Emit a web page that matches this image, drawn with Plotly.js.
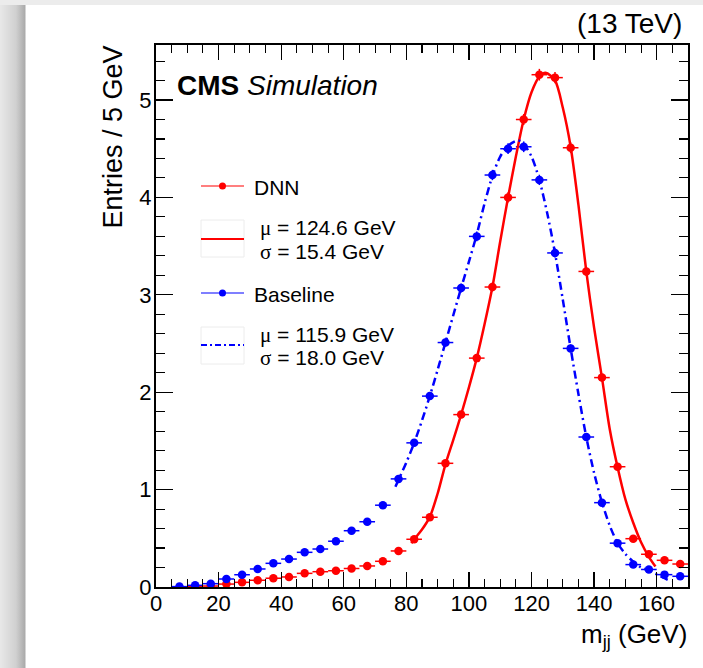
<!DOCTYPE html>
<html>
<head>
<meta charset="utf-8">
<script src="https://cdn.plot.ly/plotly-3.0.1.min.js"></script>
<style>
  html, body { margin: 0; padding: 0; }
  body {
    width: 703px; height: 668px; overflow: hidden;
    background:
      linear-gradient(to bottom, #ececec 0px, #ececec 5px, rgba(255,255,255,0) 5px),
      linear-gradient(to right, #e8e8e8 0px, #d0d0d0 16px, #aaaaaa 25px, #ffffff 26px);
  }
  #chart { width: 703px; height: 668px; }
</style>
</head>
<body>
<div id="chart"></div>
<script>
// ---- data ----
const binCenters = [7.5, 12.5, 17.5, 22.5, 27.5, 32.5, 37.5, 42.5, 47.5, 52.5, 57.5, 62.5, 67.5, 72.5, 77.5, 82.5, 87.5, 92.5, 97.5, 102.5, 107.5, 112.5, 117.5, 122.5, 127.5, 132.5, 137.5, 142.5, 147.5, 152.5, 157.5, 162.5, 167.5];
const binHalfWidth = 2.5;

const dnnValues = [null, 0.003, 0.01, 0.03, 0.048, 0.069, 0.09, 0.103, 0.14, 0.157, 0.167, 0.19, 0.216, 0.264, 0.37, 0.49, 0.716, 1.27, 1.77, 2.35, 3.08, 4.00, 4.80, 5.26, 5.23, 4.51, 3.24, 2.15, 1.235, 0.496, 0.336, 0.274, 0.236];
const dnnErrors = [0, 0.002, 0.003, 0.005, 0.006, 0.007, 0.008, 0.008, 0.01, 0.01, 0.011, 0.011, 0.012, 0.013, 0.016, 0.018, 0.022, 0.029, 0.035, 0.04, 0.046, 0.052, 0.057, 0.06, 0.059, 0.055, 0.047, 0.038, 0.029, 0.018, 0.015, 0.014, 0.013];

const baselineValues = [0.004, 0.017, 0.034, 0.082, 0.126, 0.185, 0.243, 0.287, 0.356, 0.39, 0.47, 0.578, 0.67, 0.84, 1.11, 1.48, 1.96, 2.51, 3.07, 3.60, 4.23, 4.50, 4.52, 4.18, 3.43, 2.45, 1.54, 0.866, 0.45, 0.23, 0.18, 0.127, 0.11];
const baselineErrors = [0.002, 0.003, 0.005, 0.007, 0.009, 0.011, 0.013, 0.014, 0.016, 0.016, 0.018, 0.02, 0.021, 0.024, 0.027, 0.032, 0.036, 0.041, 0.046, 0.049, 0.053, 0.055, 0.055, 0.053, 0.048, 0.041, 0.032, 0.024, 0.017, 0.012, 0.011, 0.009, 0.009];

// fitted curves
const dnnFitX = [81.6, 82.5, 85, 87.5, 90, 92.5, 95, 97.5, 100, 102.5, 105, 107.5, 110, 112.5, 115, 117.5, 120, 122.5, 124.5, 127.5, 130, 132.5, 135, 137.5, 140, 142.5, 145, 147.5, 150, 152.5, 155, 157.5, 159.6];
const dnnFitY = [0.45, 0.49, 0.59, 0.72, 0.96, 1.26, 1.51, 1.77, 2.05, 2.35, 2.70, 3.08, 3.55, 4.00, 4.42, 4.80, 5.08, 5.24, 5.28, 5.20, 4.92, 4.52, 3.92, 3.24, 2.66, 2.15, 1.62, 1.23, 0.90, 0.66, 0.46, 0.31, 0.21];

const baselineFitX = [76.5, 77.5, 80, 82.5, 85, 87.5, 90, 92.5, 95, 97.5, 100, 102.5, 105, 107.5, 110, 112.5, 115, 116.5, 117.5, 120, 122.5, 125, 127.5, 130, 132.5, 135, 137.5, 140, 142.5, 145, 147.5, 150, 152.5, 155, 157.5, 160, 162.5, 164.7];
const baselineFitY = [1.03, 1.10, 1.28, 1.48, 1.71, 1.96, 2.23, 2.51, 2.79, 3.07, 3.34, 3.62, 3.94, 4.22, 4.42, 4.53, 4.58, 4.58, 4.55, 4.42, 4.18, 3.84, 3.43, 2.95, 2.45, 1.98, 1.54, 1.17, 0.87, 0.63, 0.45, 0.34, 0.26, 0.20, 0.17, 0.13, 0.09, 0.055];

const xTickLabels = ['0', '20', '40', '60', '80', '100', '120', '140', '160'];
const yTickLabels = ['0', '1', '2', '3', '4', '5'];

const dnnLabel = 'DNN';
const baselineLabel = 'Baseline';
const dnnFitLines = ['124.6', '15.4'];
const baselineFitLines = ['115.9', '18.0'];

// ---- styling ----
const RED = '#ff0000';
const BLUE = '#0000ff';
const FONT = 'Liberation Sans, Arial, Helvetica, sans-serif';
const SERIF = 'Liberation Serif, Times New Roman, serif';

const W = 703, H = 668;
const M = { l: 156, r: 15, t: 45, b: 81 };
const PW = W - M.l - M.r, PH = H - M.t - M.b;
const px = v => (v - M.l) / PW;          // pixel x -> paper
const py = v => (H - M.b - v) / PH;      // pixel y -> paper

function dataTrace(values, errs, color) {
  return {
    type: 'scatter', mode: 'markers',
    x: binCenters, y: values,
    marker: { color: color, size: 8.5, symbol: 'circle' },
    error_x: { type: 'constant', value: binHalfWidth, color: color, thickness: 1.5, width: 0 },
    error_y: { type: 'data', array: errs, color: color, thickness: 1.5, width: 0 },
    showlegend: false, hoverinfo: 'x+y'
  };
}

const traces = [
  dataTrace(dnnValues, dnnErrors, RED),
  dataTrace(baselineValues, baselineErrors, BLUE),
  { type: 'scatter', mode: 'lines', x: dnnFitX, y: dnnFitY,
    line: { color: RED, width: 2.5, shape: 'spline', smoothing: 0.8 }, showlegend: false },
  { type: 'scatter', mode: 'lines', x: baselineFitX, y: baselineFitY,
    line: { color: BLUE, width: 2.5, shape: 'spline', smoothing: 0.8, dash: '8px,4px,2px,4px' }, showlegend: false }
];

const tickFont = { family: FONT, size: 22, color: '#000' };

const annotations = [];
const shapes = [];
function ann(text, x, y, opts) {
  annotations.push(Object.assign({
    text: text, xref: 'paper', yref: 'paper', x: x, y: y,
    showarrow: false, xanchor: 'left', yanchor: 'middle',
    font: { family: FONT, size: 21, color: '#000' }
  }, opts || {}));
}

// header texts
ann('<b>CMS</b> <i>Simulation</i>', px(175), py(86), { font: { family: FONT, size: 28, color: '#000' } });
ann('(13 TeV)', px(684), py(24), { xanchor: 'right', font: { family: FONT, size: 28, color: '#000' } });
// axis titles (ROOT-style alignment at the axis ends)
ann('Entries / 5 GeV', px(113), py(44), { xanchor: 'center', yanchor: 'top', textangle: -90, font: { family: FONT, size: 27, color: '#000' } });
ann('m<sub>jj</sub> (GeV)', px(689), py(635), { xanchor: 'right', font: { family: FONT, size: 26, color: '#000' } });

// legend
function legendMarkerEntry(yPix, color, label) {
  shapes.push({ type: 'line', xref: 'paper', yref: 'paper', x0: px(201), x1: px(244), y0: py(yPix), y1: py(yPix),
                line: { color: color, width: 1.2 } });
  shapes.push({ type: 'circle', xref: 'paper', yref: 'paper', xsizemode: 'pixel', ysizemode: 'pixel',
                xanchor: px(222.5), yanchor: py(yPix), x0: -3.5, x1: 3.5, y0: -3.5, y1: 3.5,
                fillcolor: color, line: { color: color, width: 0 } });
  ann(label, px(252), py(yPix + 1));
}
function legendFitEntry(boxTop, boxBot, lineY, color, dash, vals, textY1, textY2) {
  shapes.push({ type: 'rect', xref: 'paper', yref: 'paper', x0: px(201), x1: px(244), y0: py(boxTop), y1: py(boxBot),
                line: { color: '#ececec', width: 1 }, fillcolor: 'rgba(0,0,0,0)' });
  shapes.push({ type: 'line', xref: 'paper', yref: 'paper', x0: px(201), x1: px(244), y0: py(lineY), y1: py(lineY),
                line: { color: color, width: 2, dash: dash } });
  ann('<span style="font-family:' + SERIF + '">μ</span> = ' + vals[0] + ' GeV', px(258), py(textY1));
  ann('<span style="font-family:' + SERIF + '">σ</span> = ' + vals[1] + ' GeV', px(258), py(textY2));
}
legendMarkerEntry(186, RED, dnnLabel);
legendFitEntry(220, 257, 239, RED, 'solid', dnnFitLines, 228, 252);
legendMarkerEntry(293, BLUE, baselineLabel);
legendFitEntry(327, 364, 345, BLUE, '6px,3px,2px,3px', baselineFitLines, 335, 358);

const layout = {
  width: W, height: H,
  margin: M,
  paper_bgcolor: 'rgba(0,0,0,0)',
  plot_bgcolor: '#ffffff',
  showlegend: false,
  font: { family: FONT, color: '#000' },
  xaxis: {
    range: [0, 170], tickmode: 'array',
    tickvals: xTickLabels.map(Number), ticktext: xTickLabels,
    ticks: 'inside', ticklen: 15, tickwidth: 1.3, tickcolor: '#000', ticklabelstandoff: -4,
    minor: { dtick: 5, tick0: 0, ticks: 'inside', ticklen: 8, tickwidth: 1.1, tickcolor: '#000', showgrid: false },
    showline: true, linecolor: '#000', linewidth: 2, mirror: 'allticks',
    showgrid: false, zeroline: false, tickfont: tickFont
  },
  yaxis: {
    range: [0, 5.565], tickmode: 'array',
    tickvals: yTickLabels.map(Number), ticktext: yTickLabels,
    ticks: 'inside', ticklen: 17, tickwidth: 1.3, tickcolor: '#000', ticklabelstandoff: -2,
    minor: { dtick: 0.2, tick0: 0, ticks: 'inside', ticklen: 9, tickwidth: 1.1, tickcolor: '#000', showgrid: false },
    showline: true, linecolor: '#000', linewidth: 2, mirror: 'allticks',
    showgrid: false, zeroline: false, tickfont: tickFont
  },
  annotations: annotations,
  shapes: shapes
};

Plotly.newPlot('chart', traces, layout, { displayModeBar: false, staticPlot: true });
</script>
</body>
</html>
